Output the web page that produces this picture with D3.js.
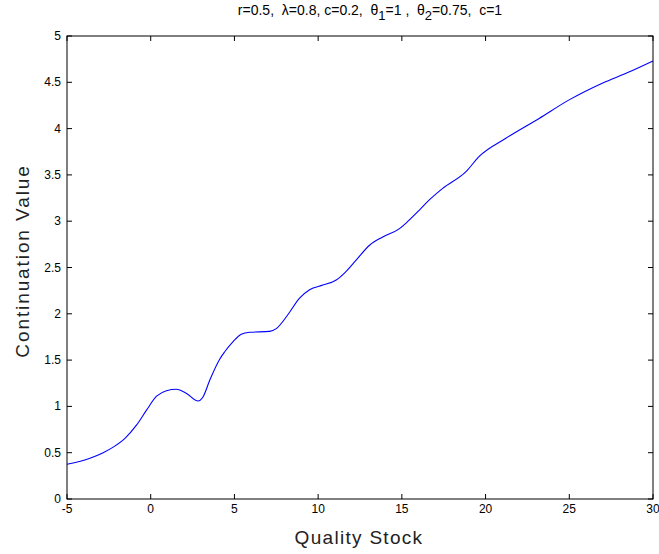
<!DOCTYPE html>
<html><head><meta charset="utf-8">
<script src="https://cdn.jsdelivr.net/npm/d3@7"></script>
<style>body{margin:0;background:#fff}text{font-family:"Liberation Sans",Arial,sans-serif;white-space:pre}</style>
</head><body>
<svg id="c" width="659" height="554"></svg>
<script>
const xs = [-5,-3.63,-2.84,-2.24,-1.54,-0.84,-0.25,0.35,0.94,1.54,2.14,2.83,3.13,3.53,4.12,4.42,4.92,5.41,5.91,7.1,7.5,8.19,8.89,9.49,10.28,11.08,11.57,12.27,13.07,13.86,14.86,15.25,16.05,16.64,17.44,18.83,19.62,21.21,23.2,24.99,26.97,28.56,30];
const ys = [0.375,0.44,0.50,0.56,0.655,0.80,0.96,1.11,1.17,1.185,1.14,1.058,1.105,1.285,1.51,1.59,1.70,1.78,1.80,1.81,1.84,1.99,2.17,2.26,2.31,2.365,2.44,2.58,2.74,2.83,2.92,2.98,3.12,3.23,3.355,3.535,3.70,3.895,4.11,4.31,4.49,4.61,4.73];
const xTicks = [-5,0,5,10,15,20,25,30];
const yTicks = [0,0.5,1,1.5,2,2.5,3,3.5,4,4.5,5];

const svg = d3.select("#c");
const L=67,R=653,T=36,B=499;
const x = d3.scaleLinear().domain([-5,30]).range([L,R]);
const y = d3.scaleLinear().domain([0,5]).range([B,T]);
const data = xs.map((v,i)=>({x:v,y:ys[i]}));

svg.append("path").datum(data)
  .attr("fill","none").attr("stroke","#0000ff").attr("stroke-width",1.1)
  .attr("d",d3.line().x(d=>x(d.x)).y(d=>y(d.y)).curve(d3.curveMonotoneX));

svg.append("rect").attr("x",L).attr("y",T).attr("width",R-L).attr("height",B-T)
  .attr("fill","none").attr("stroke","#000").attr("stroke-width",1);

const tl=5;
const fmt = d=>String(d);
const gx = svg.append("g");
xTicks.forEach(t=>{
  gx.append("line").attr("x1",x(t)).attr("x2",x(t)).attr("y1",B).attr("y2",B-tl).attr("stroke","#000");
  gx.append("line").attr("x1",x(t)).attr("x2",x(t)).attr("y1",T).attr("y2",T+tl).attr("stroke","#000");
  gx.append("text").attr("x",x(t)).attr("y",B+14).attr("text-anchor","middle").attr("font-size",12).text(fmt(t));
});
const gy = svg.append("g");
yTicks.forEach(t=>{
  gy.append("line").attr("x1",L).attr("x2",L+tl).attr("y1",y(t)).attr("y2",y(t)).attr("stroke","#000");
  gy.append("line").attr("x1",R).attr("x2",R-tl).attr("y1",y(t)).attr("y2",y(t)).attr("stroke","#000");
  gy.append("text").attr("x",L-6).attr("y",y(t)+4).attr("text-anchor","end").attr("font-size",12).text(fmt(t));
});

svg.append("text").attr("x",359).attr("y",544).attr("text-anchor","middle").attr("font-size",19).attr("letter-spacing",1.3).attr("fill","#222").text("Quality Stock");
svg.append("text").attr("transform","translate(29,261) rotate(-90)").attr("text-anchor","middle").attr("font-size",19).attr("letter-spacing",1.9).attr("fill","#222").text("Continuation Value");

const title = svg.append("text").attr("x",370).attr("y",15).attr("text-anchor","middle").attr("font-size",14).attr("letter-spacing",0);
title.append("tspan").text("r=0.5,  λ=0.8, c=0.2,  θ");
title.append("tspan").attr("dy",5).attr("font-size",13).text("1");
title.append("tspan").attr("dy",-5).text("=1 ,  θ");
title.append("tspan").attr("dy",5).attr("font-size",13).text("2");
title.append("tspan").attr("dy",-5).text("=0.75,  c=1");
</script>
</body></html>
